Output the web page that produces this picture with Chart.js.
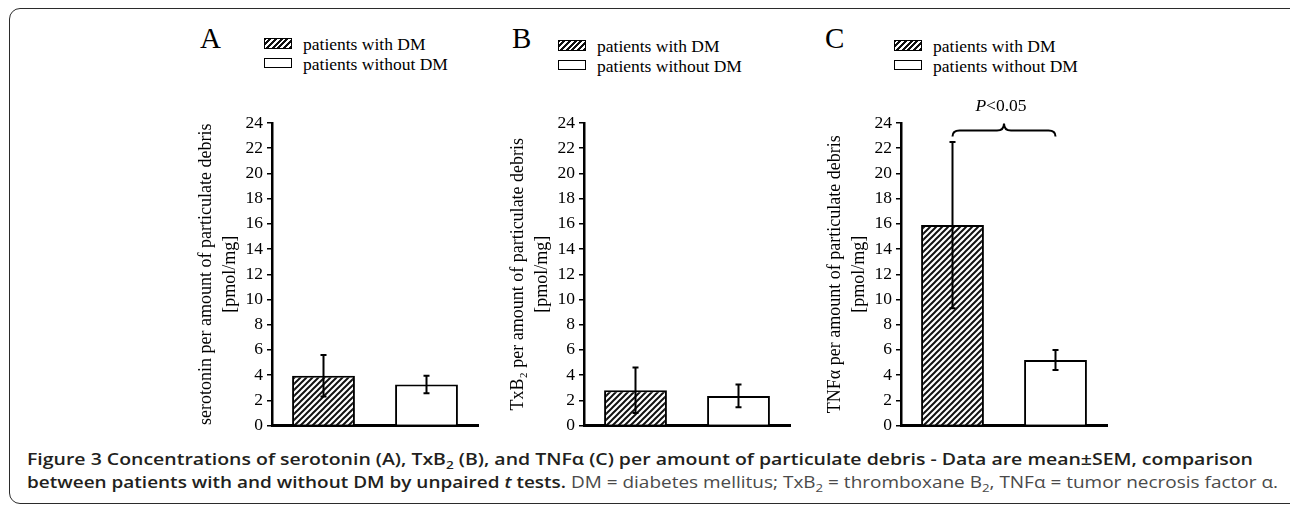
<!DOCTYPE html>
<html>
<head>
<meta charset="utf-8">
<title>Figure 3</title>
<script src="https://cdn.jsdelivr.net/npm/chart.js@4.4.1/dist/chart.umd.min.js"></script>
<style>
  html, body { margin: 0; padding: 0; background: #fff; }
  body { position: relative; width: 1290px; height: 505px; overflow: hidden; font-family: "Liberation Serif", "Times New Roman", serif; color: #000; }
  #frame { position: absolute; left: 9px; top: 8px; width: 1300px; height: 494px; border: 1.5px solid #2b2b2b; border-radius: 11px; }
  .panel { position: absolute; top: 90px; width: 300px; height: 350px; }
  .letter { position: absolute; top: 24px; font-size: 29px; line-height: 29px; }
  .lg-row { position: absolute; height: 20px; font-size: 17.5px; line-height: 20px; white-space: nowrap; }
  .lg-row .sw { position: absolute; left: 0; top: 4px; width: 26px; height: 8.5px; border: 1.5px solid #000; background: #fff; }
  .lg-row .sw.hatch { background: repeating-linear-gradient(-45deg, #111 0 2px, #fff 2px 4px); }
  .lg-row .tx { position: absolute; left: 39px; top: 0; }
  #caption { position: absolute; left: 27px; top: 447px; font-family: "Open Sans", sans-serif; font-size: 16.5px; line-height: 23px; color: #231f20; white-space: nowrap; }
  #caption .ln { display: block; width: max-content; transform-origin: left top; }
  #caption b { font-weight: 600; }
  #caption .plain { font-weight: 400; color: #4a4a4a; }
  #caption sub { font-size: 70%; line-height: 0; }
</style>
</head>
<body>
<div id="frame"></div>

<div class="panel" style="left:192px"><canvas id="chartA" width="300" height="350"></canvas></div>
<div class="panel" style="left:504px"><canvas id="chartB" width="300" height="350"></canvas></div>
<div class="panel" style="left:821px"><canvas id="chartC" width="300" height="350"></canvas></div>

<div id="caption">
  <span class="ln" data-w="1226"><b>Figure 3 Concentrations of serotonin (A), TxB<sub>2</sub> (B), and TNFα (C) per amount of particulate debris - Data are mean±SEM, comparison</b></span>
  <span class="ln" data-w="1251"><b>between patients with and without DM by unpaired <i>t</i> tests.</b> <span class="plain">DM = diabetes mellitus; TxB<sub>2</sub> = thromboxane B<sub>2</sub>, TNFα = tumor necrosis factor α.</span></span>
</div>

<script>
// ---- data ----
const groups = ["patients with DM", "patients without DM"];

const serotoninMean = [3.95, 3.25];
const serotoninSem = [1.65, 0.7];

const txb2Mean = [2.8, 2.35];
const txb2Sem = [1.8, 0.9];

const tnfMean = [15.9, 5.2];
const tnfSem = [6.6, 0.8];

const yTickValues = [0, 2, 4, 6, 8, 10, 12, 14, 16, 18, 20, 22, 24];

const panelLetters = ["A", "B", "C"];
const yTitles = [
  "serotonin per amount of particulate debris",
  "TxB\u2082 per amount of particulate debris",
  "TNFα per amount of particulate debris",
];
const yUnit = "[pmol/mg]";

// significance bracket in panel C
const sigText = "<0.05";
const sigLevel = 23.4;

// ---- layout (page pixels) ----
const letterLeft = [200, 512, 825];
const legendLeft = [264, 558, 894];
const legendTop = [34, 36, 36];

const serif = '"Liberation Serif", "Times New Roman", serif';

// hatched fill like the print figure
function makeHatch() {
  const c = document.createElement("canvas");
  c.width = c.height = 6;
  const g = c.getContext("2d");
  g.fillStyle = "#fff";
  g.fillRect(0, 0, 6, 6);
  g.strokeStyle = "#111";
  g.lineWidth = 2;
  g.beginPath();
  g.moveTo(0, 6); g.lineTo(6, 0);
  g.moveTo(-3, 3); g.lineTo(3, -3);
  g.moveTo(3, 9); g.lineTo(9, 3);
  g.stroke();
  return g.createPattern(c, "repeat");
}

// mean ± SEM whiskers
const errorBars = {
  id: "errorBars",
  afterDatasetsDraw(chart) {
    const ctx = chart.ctx;
    const y = chart.scales.y;
    chart.data.datasets.forEach((ds, di) => {
      chart.getDatasetMeta(di).data.forEach((bar, i) => {
        const m = ds.data[i];
        const e = ds.sem[i];
        const top = y.getPixelForValue(m + e);
        const bot = y.getPixelForValue(m - e);
        ctx.save();
        ctx.strokeStyle = "#000";
        ctx.lineWidth = 2;
        ctx.beginPath();
        ctx.moveTo(bar.x, top); ctx.lineTo(bar.x, bot);
        ctx.moveTo(bar.x - 3, top); ctx.lineTo(bar.x + 3, top);
        ctx.moveTo(bar.x - 3, bot); ctx.lineTo(bar.x + 3, bot);
        ctx.stroke();
        ctx.restore();
      });
    });
  },
};

// curly brace + P value
const sigBrace = {
  id: "sigBrace",
  afterDraw(chart, args, opts) {
    if (!opts || !opts.show) return;
    const ctx = chart.ctx;
    const y = chart.scales.y;
    const bars = chart.getDatasetMeta(0).data;
    const x0 = bars[0].x, x1 = bars[1].x, xm = (x0 + x1) / 2;
    const yb = y.getPixelForValue(opts.level);

    ctx.save();
    ctx.strokeStyle = "#000";
    ctx.lineWidth = 2;
    ctx.beginPath();
    ctx.moveTo(x0, yb + 6);
    ctx.quadraticCurveTo(x0, yb, x0 + 7, yb);
    ctx.lineTo(xm - 7, yb);
    ctx.quadraticCurveTo(xm, yb, xm, yb - 7);
    ctx.quadraticCurveTo(xm, yb, xm + 7, yb);
    ctx.lineTo(x1 - 7, yb);
    ctx.quadraticCurveTo(x1, yb, x1, yb + 6);
    ctx.stroke();

    ctx.fillStyle = "#000";
    ctx.textBaseline = "alphabetic";
    ctx.font = "italic 17.5px " + serif;
    const wP = ctx.measureText("P").width;
    ctx.font = "17.5px " + serif;
    const wR = ctx.measureText(opts.text).width;
    const start = xm - (wP + wR) / 2 - 3;
    const base = yb - 20;
    ctx.font = "italic 17.5px " + serif;
    ctx.fillText("P", start, base);
    ctx.font = "17.5px " + serif;
    ctx.fillText(opts.text, start + wP, base);
    ctx.restore();
  },
};

const hatch = makeHatch();

function makeChart(id, means, sems, title, brace) {
  return new Chart(document.getElementById(id), {
    type: "bar",
    data: {
      labels: groups,
      datasets: [
        {
          label: title,
          data: means,
          sem: sems,
          backgroundColor: [hatch, "#fff"],
          borderColor: "#000",
          borderWidth: 2,
          categoryPercentage: 1,
          barPercentage: 0.61,
        },
      ],
    },
    options: {
      responsive: false,
      animation: false,
      devicePixelRatio: 1,
      events: [],
      layout: { padding: { top: 33, right: 14, left: 0, bottom: 0 } },
      plugins: {
        legend: { display: false },
        tooltip: { enabled: false },
        sigBrace: brace,
      },
      scales: {
        x: {
          grid: { display: false },
          border: { color: "#000", width: 3 },
          ticks: { display: false },
          afterFit: (s) => { s.height = 13; },
        },
        y: {
          min: 0,
          max: 24,
          afterBuildTicks: (s) => { s.ticks = yTickValues.map((v) => ({ value: v })); },
          ticks: { color: "#000", padding: 4, font: { family: serif, size: 17.5 } },
          grid: { drawOnChartArea: false, drawTicks: true, tickLength: 5, color: "#000", lineWidth: 1.5 },
          border: { color: "#000", width: 2.5 },
          title: {
            display: true,
            text: [title, yUnit],
            color: "#000",
            padding: { top: 3, bottom: 0 },
            font: { family: serif, size: 18, lineHeight: 1.3 },
          },
          afterFit: (s) => { s.width = 80; },
        },
      },
    },
    plugins: [errorBars, sigBrace],
  });
}

makeChart("chartA", serotoninMean, serotoninSem, yTitles[0], { show: false });
makeChart("chartB", txb2Mean, txb2Sem, yTitles[1], { show: false });
makeChart("chartC", tnfMean, tnfSem, yTitles[2], { show: true, level: sigLevel, text: sigText });

// panel letters and legends
panelLetters.forEach((letter, p) => {
  const l = document.createElement("div");
  l.className = "letter";
  l.style.left = letterLeft[p] + "px";
  l.textContent = letter;
  document.body.appendChild(l);

  groups.forEach((g, i) => {
    const row = document.createElement("div");
    row.className = "lg-row";
    row.style.left = legendLeft[p] + "px";
    row.style.top = legendTop[p] + i * 19.5 + "px";
    row.innerHTML = '<span class="sw' + (i === 0 ? " hatch" : "") + '"></span><span class="tx">' + g + "</span>";
    document.body.appendChild(row);
  });
});

// stretch caption lines to the printed widths
document.querySelectorAll("#caption .ln").forEach((el) => {
  const w = el.getBoundingClientRect().width;
  el.style.transform = "scaleX(" + (+el.dataset.w / w) + ")";
});
</script>
</body>
</html>
